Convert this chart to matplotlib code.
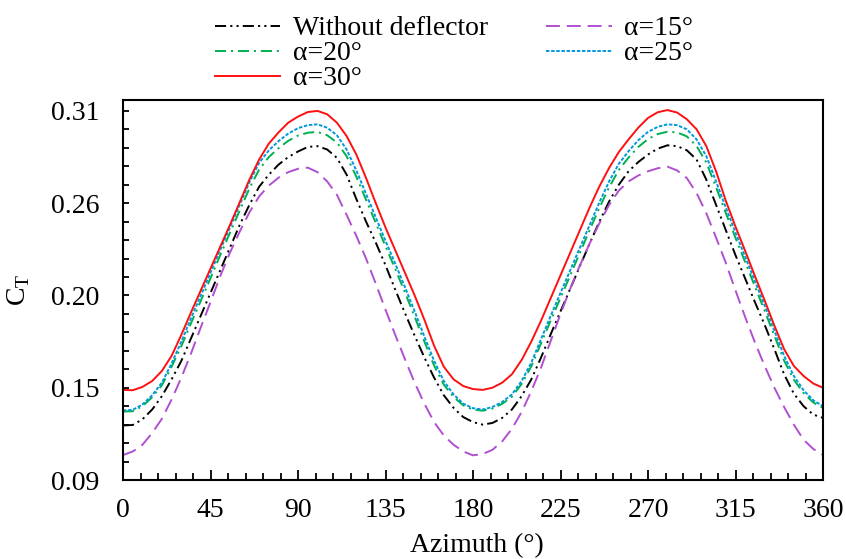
import numpy as np
import matplotlib
matplotlib.use("Agg")
import matplotlib.pyplot as plt

plt.rcParams['font.family'] = ['Liberation Serif', 'DejaVu Serif']
plt.rcParams['mathtext.fontset'] = 'custom'
plt.rcParams['mathtext.rm'] = 'Liberation Serif'
plt.rcParams['lines.scale_dashes'] = False

# azimuth grid (deg), C_T every 5 deg
azimuth = np.arange(0, 361, 5)

ct_without = [0.1225, 0.1228, 0.1262, 0.1320, 0.1400, 0.1500, 0.1610, 0.1745, 0.1880, 0.2015,
              0.2150, 0.2285, 0.2420, 0.2540, 0.2648, 0.2720, 0.2780, 0.2825, 0.2858, 0.2885,
              0.2890, 0.2870, 0.2820, 0.2720, 0.2575, 0.2440, 0.2315, 0.2180, 0.2035, 0.1895,
              0.1760, 0.1630, 0.1510, 0.1405, 0.1330, 0.1275, 0.1245, 0.1230, 0.1240, 0.1270,
              0.1320, 0.1400, 0.1500, 0.1630, 0.1770, 0.1905, 0.2040, 0.2175, 0.2310, 0.2440,
              0.2560, 0.2660, 0.2740, 0.2795, 0.2840, 0.2875, 0.2895, 0.2890, 0.2865, 0.2810,
              0.2690, 0.2540, 0.2390, 0.2240, 0.2100, 0.1960, 0.1825, 0.1680, 0.1530, 0.1415,
              0.1340, 0.1290, 0.1270]
ct_a15 = [0.1049, 0.1070, 0.1110, 0.1180, 0.1265, 0.1380, 0.1510, 0.1655, 0.1810, 0.1960,
          0.2115, 0.2255, 0.2380, 0.2495, 0.2590, 0.2655, 0.2702, 0.2735, 0.2755, 0.2762,
          0.2735, 0.2680, 0.2600, 0.2480, 0.2355, 0.2220, 0.2070, 0.1915, 0.1765, 0.1620,
          0.1480, 0.1355, 0.1245, 0.1165, 0.1110, 0.1070, 0.1047, 0.1055, 0.1080, 0.1130,
          0.1205, 0.1305, 0.1430, 0.1570, 0.1730, 0.1890, 0.2040, 0.2180, 0.2310, 0.2430,
          0.2540, 0.2625, 0.2680, 0.2715, 0.2740, 0.2758, 0.2768, 0.2745, 0.2699, 0.2610,
          0.2490, 0.2345, 0.2195, 0.2030, 0.1870, 0.1720, 0.1580, 0.1450, 0.1335, 0.1230,
          0.1140, 0.1085, 0.1049]
ct_a20 = [0.1308, 0.1310, 0.1340, 0.1393, 0.1465, 0.1575, 0.1698, 0.1835, 0.1968, 0.2103,
          0.2240, 0.2373, 0.2505, 0.2638, 0.2750, 0.2825, 0.2878, 0.2922, 0.2953, 0.2970,
          0.2975, 0.2955, 0.2912, 0.2830, 0.2708, 0.2570, 0.2432, 0.2293, 0.2158, 0.2018,
          0.1873, 0.1725, 0.1582, 0.1468, 0.1395, 0.1345, 0.1320, 0.1313, 0.1326, 0.1354,
          0.1396, 0.1472, 0.1578, 0.1715, 0.1852, 0.1985, 0.2120, 0.2255, 0.2390, 0.2522,
          0.2645, 0.2748, 0.2822, 0.2885, 0.2932, 0.2962, 0.2976, 0.2972, 0.2948, 0.2890,
          0.2792, 0.2645, 0.2492, 0.2343, 0.2198, 0.2053, 0.1908, 0.1760, 0.1612, 0.1498,
          0.1418, 0.1362, 0.1330]
ct_a25 = [0.1315, 0.1318, 0.1350, 0.1405, 0.1480, 0.1595, 0.1725, 0.1865, 0.2000, 0.2135,
          0.2272, 0.2405, 0.2540, 0.2675, 0.2790, 0.2865, 0.2920, 0.2965, 0.2997, 0.3015,
          0.3020, 0.3000, 0.2955, 0.2870, 0.2745, 0.2605, 0.2465, 0.2325, 0.2190, 0.2050,
          0.1905, 0.1755, 0.1610, 0.1490, 0.1410, 0.1355, 0.1328, 0.1320, 0.1335, 0.1365,
          0.1410, 0.1490, 0.1600, 0.1740, 0.1880, 0.2015, 0.2150, 0.2285, 0.2420, 0.2555,
          0.2680, 0.2785, 0.2860, 0.2925, 0.2975, 0.3005, 0.3020, 0.3015, 0.2990, 0.2930,
          0.2830, 0.2680, 0.2525, 0.2375, 0.2230, 0.2085, 0.1940, 0.1790, 0.1640, 0.1520,
          0.1435, 0.1375, 0.1340]
ct_a30 = [0.1437, 0.1435, 0.1455, 0.1490, 0.1550, 0.1640, 0.1765, 0.1900, 0.2030, 0.2160,
          0.2290, 0.2420, 0.2555, 0.2690, 0.2810, 0.2905, 0.2972, 0.3030, 0.3066, 0.3093,
          0.3100, 0.3080, 0.3030, 0.2950, 0.2840, 0.2700, 0.2550, 0.2405, 0.2270, 0.2135,
          0.2000, 0.1855, 0.1700, 0.1575, 0.1500, 0.1460, 0.1442, 0.1437, 0.1450, 0.1480,
          0.1530, 0.1615, 0.1725, 0.1850, 0.1985, 0.2120, 0.2255, 0.2390, 0.2525, 0.2650,
          0.2760, 0.2855, 0.2930, 0.3000, 0.3058, 0.3092, 0.3105, 0.3090, 0.3050, 0.2990,
          0.2890, 0.2740, 0.2565, 0.2410, 0.2265, 0.2115, 0.1970, 0.1820, 0.1680, 0.1580,
          0.1520, 0.1475, 0.1450]

ytick_vals = [0.09, 0.145, 0.20, 0.255, 0.31]
ytick_labels = ['0.09', '0.15', '0.20', '0.26', '0.31']
xtick_vals = [0, 45, 90, 135, 180, 225, 270, 315, 360]

fig = plt.figure(figsize=(8.46, 5.59), dpi=100)
ax = fig.add_axes([123 / 846, 1 - 480 / 559, 700 / 846, 380 / 559])

lw = 1.4
l_wo, = ax.plot(azimuth, ct_without, color='black', lw=lw, dashes=(8, 3, 1.5, 3, 1.5, 3),
                label='Without deflector')
l_15, = ax.plot(azimuth, ct_a15, color='#B050D0', lw=lw, dashes=(10, 5), label='α=15°')
l_20, = ax.plot(azimuth, ct_a20, color='#00B050', lw=lw, dashes=(8, 3.5, 1.5, 3.5), label='α=20°')
l_25, = ax.plot(azimuth, ct_a25, color='#0099DD', lw=lw, dashes=(2.5, 1.2), label='α=25°')
l_30, = ax.plot(azimuth, ct_a30, color='#FF1010', lw=lw, label='α=30°')

ax.set_xlim(0, 360)
ax.set_ylim(0.09, 0.3165)
ax.set_xticks(xtick_vals)
ax.set_xticks(np.arange(0, 361, 9), minor=True)
ax.set_yticks(ytick_vals)
ax.set_yticklabels(ytick_labels)
ax.set_yticks(np.arange(0.09, 0.3101, 0.011), minor=True)

ax.tick_params(axis='both', which='both', direction='in', labelsize=20, width=1.3)
ax.tick_params(axis='x', which='major', length=7, pad=13)
ax.tick_params(axis='x', which='minor', length=5)
ax.tick_params(axis='y', which='both', length=4.5, pad=17)
for s in ax.spines.values():
    s.set_linewidth(1.5)

ax.set_xlabel('Azimuth (°)', fontsize=20)
ax.xaxis.set_label_coords(0.505, -0.14)
ax.set_ylabel(r'C$_\mathregular{T}$', fontsize=20)
ax.yaxis.set_label_coords(-0.13, 0.5)

fig.legend(handles=[l_wo, l_20, l_30, l_15, l_25], loc='upper left',
           bbox_to_anchor=(215 / 846, 1 - 16 / 559), ncol=2, frameon=False,
           fontsize=20, borderpad=0, borderaxespad=0, handlelength=2.35,
           handletextpad=0.45, columnspacing=2.1, labelspacing=-0.02)

fig.savefig('out.png', dpi=100)
